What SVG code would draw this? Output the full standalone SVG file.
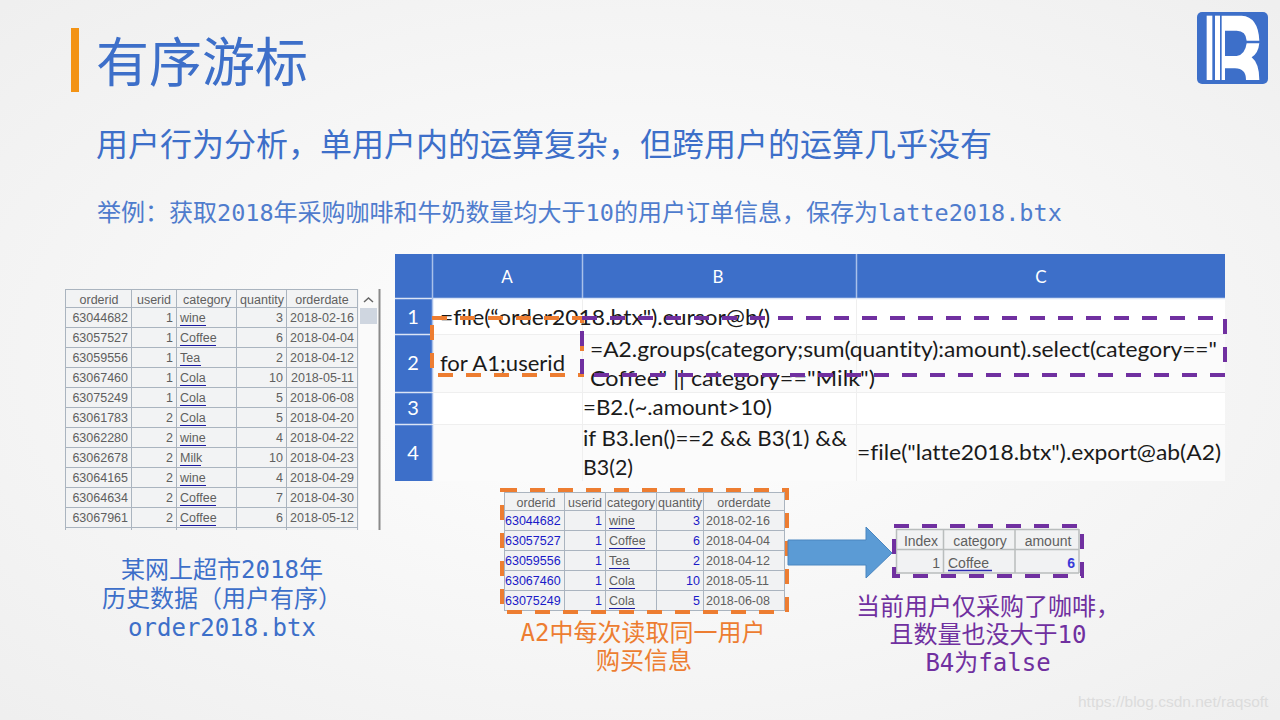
<svg xmlns="http://www.w3.org/2000/svg" width="1280" height="720" viewBox="0 0 1280 720">
<defs>
<radialGradient id="bg" cx="50%" cy="50%" r="70%"><stop offset="0" stop-color="#ffffff"/><stop offset="1" stop-color="#efefef"/></radialGradient>
</defs>
<style>
.cjk{font-family:"Noto Sans CJK SC","Noto Sans",sans-serif}
.mono{font-family:"DejaVu Sans Mono","Noto Sans CJK SC",monospace}
.blue{fill:#3d6fc9}
.cell{font-family:Lato,"Noto Sans",sans-serif;font-size:22px;fill:#1a1a1a;font-variant-ligatures:none}
.hd{font-family:Lato,"Noto Sans",sans-serif;font-size:17px;fill:#fff;text-anchor:middle}
.rn{font-family:Lato,"Noto Sans",sans-serif;font-size:20px;fill:#fff;text-anchor:middle}
.t{font-family:"Liberation Sans",Arial,sans-serif;font-size:12.5px;fill:#5f5f5f}
.c{text-anchor:middle}.r{text-anchor:end}
.n{fill:#1a1ac8}
.ul{stroke:#1a1aa0;stroke-width:1;fill:none}
.g{stroke:#aab4bf;stroke-width:1;fill:none}
.gg{stroke:#b9bdbd;stroke-width:1.5;fill:none}
.og{fill:none;stroke:#ed7d31;stroke-width:4;stroke-dasharray:15 13}
.pu{fill:none;stroke:#7030a0;stroke-width:4;stroke-dasharray:15 13}
</style>
<rect width="1280" height="720" fill="url(#bg)"/>

<g id="title">
<rect x="71" y="28" width="8" height="64" fill="#f39314"/>
<text x="96" y="82" class="cjk blue" font-size="53">有序游标</text>
</g>
<g id="subtitle"><text x="96" y="156" class="cjk blue" font-size="32">用户行为分析，单用户内的运算复杂，但跨用户的运算几乎没有</text></g>
<g id="example"><text x="97" y="221" class="cjk blue" font-size="24" opacity="0.9">举例：获取<tspan class="mono" font-size="23.500">2018</tspan>年采购咖啡和牛奶数量均大于<tspan class="mono" font-size="23.500">10</tspan>的用户订单信息，保存为<tspan class="mono" font-size="23.500">latte2018.btx</tspan></text></g>

<g id="logo">
<rect x="1197" y="12" width="71" height="72" rx="5" fill="#3d6fc9"/>
<g transform="translate(1180 0) scale(0.3333)" fill="#fff">
<rect x="80" y="47" width="17" height="193"/><rect x="105" y="47" width="15" height="193"/>
<path d="M125 47H185Q235 50 238 122H200Q198 92 170 92H135V168H170Q195 165 200 130H238Q235 160 215 172Q238 190 238 240H198Q198 205 165 205H135V240H125Z"/>
</g>
</g>

<g id="source-table">
<rect x="65" y="289" width="315" height="241" fill="#f2f3f4"/>
<path class="g" d="M65 307.500H358M65 327.500H358M65 347.500H358M65 367.500H358M65 387.500H358M65 407.500H358M65 427.500H358M65 447.500H358M65 467.500H358M65 487.500H358M65 507.500H358M65 527.500H358M65 289.500H358M65.500 289V530M131.500 289V530M176.500 289V530M236.500 289V530M286.500 289V530M357.500 289V530"/>
<rect x="359" y="289" width="20" height="241" fill="#fafafa"/>
<rect x="360" y="308" width="17" height="16" fill="#cfd6e0"/>
<path d="M364 302l4.500-4 4.500 4" fill="none" stroke="#666" stroke-width="1.500"/>
<rect x="378.500" y="289" width="2" height="241" fill="#8a8a8a"/>
<path class="ul" d="M180 325.500h26M180 345.500h36M180 365.500h21M180 385.500h26M180 405.500h26M180 425.500h26M180 445.500h26M180 465.500h21M180 485.500h26M180 505.500h36M180 525.500h36"/>
<g class="t">
<text x="99" y="304" class="c">orderid</text><text x="154" y="304" class="c">userid</text><text x="207" y="304" class="c">category</text><text x="262" y="304" class="c">quantity</text><text x="322" y="304" class="c">orderdate</text>
<text x="128" y="322" class="r">63044682</text><text x="173" y="322" class="r">1</text><text x="180" y="322">wine</text><text x="283" y="322" class="r">3</text><text x="354" y="322" class="r">2018-02-16</text>
<text x="128" y="342" class="r">63057527</text><text x="173" y="342" class="r">1</text><text x="180" y="342">Coffee</text><text x="283" y="342" class="r">6</text><text x="354" y="342" class="r">2018-04-04</text>
<text x="128" y="362" class="r">63059556</text><text x="173" y="362" class="r">1</text><text x="180" y="362">Tea</text><text x="283" y="362" class="r">2</text><text x="354" y="362" class="r">2018-04-12</text>
<text x="128" y="382" class="r">63067460</text><text x="173" y="382" class="r">1</text><text x="180" y="382">Cola</text><text x="283" y="382" class="r">10</text><text x="354" y="382" class="r">2018-05-11</text>
<text x="128" y="402" class="r">63075249</text><text x="173" y="402" class="r">1</text><text x="180" y="402">Cola</text><text x="283" y="402" class="r">5</text><text x="354" y="402" class="r">2018-06-08</text>
<text x="128" y="422" class="r">63061783</text><text x="173" y="422" class="r">2</text><text x="180" y="422">Cola</text><text x="283" y="422" class="r">5</text><text x="354" y="422" class="r">2018-04-20</text>
<text x="128" y="442" class="r">63062280</text><text x="173" y="442" class="r">2</text><text x="180" y="442">wine</text><text x="283" y="442" class="r">4</text><text x="354" y="442" class="r">2018-04-22</text>
<text x="128" y="462" class="r">63062678</text><text x="173" y="462" class="r">2</text><text x="180" y="462">Milk</text><text x="283" y="462" class="r">10</text><text x="354" y="462" class="r">2018-04-23</text>
<text x="128" y="482" class="r">63064165</text><text x="173" y="482" class="r">2</text><text x="180" y="482">wine</text><text x="283" y="482" class="r">4</text><text x="354" y="482" class="r">2018-04-29</text>
<text x="128" y="502" class="r">63064634</text><text x="173" y="502" class="r">2</text><text x="180" y="502">Coffee</text><text x="283" y="502" class="r">7</text><text x="354" y="502" class="r">2018-04-30</text>
<text x="128" y="522" class="r">63067961</text><text x="173" y="522" class="r">2</text><text x="180" y="522">Coffee</text><text x="283" y="522" class="r">6</text><text x="354" y="522" class="r">2018-05-12</text>
</g>
</g>
<g id="source-caption" class="blue" font-size="24">
<text x="222" y="578" class="cjk c">某网上超市<tspan class="mono">2018</tspan>年</text>
<text x="222" y="607" class="cjk c">历史数据（用户有序）</text>
<text x="222" y="636" class="mono c">order2018.btx</text>
</g>

<g id="code-table">
<rect x="395" y="254" width="830" height="227" fill="#fbfbfb"/>
<rect x="395" y="299" width="830" height="36" fill="#ffffff"/>
<rect x="395" y="393" width="830" height="31" fill="#ffffff"/>
<rect x="395" y="254" width="830" height="44" fill="#3d6fc9"/>
<rect x="395" y="254" width="37" height="227" fill="#3d6fc9"/>
<path d="M395 298.500H1225M395 334.500H432M395 392.500H432M395 424.500H432" stroke="#dbe4f5" stroke-width="1.500" fill="none"/>
<path d="M432.500 254V481M582.500 254V298M856.500 254V298" stroke="#a9c0ea" stroke-width="1.500" fill="none"/>
<path d="M432 334.500H1225M432 392.500H1225M432 424.500H1225M582.500 298V481M856.500 298V481" stroke="#efefef" stroke-width="1" fill="none"/>
<text x="507" y="283" class="hd">A</text><text x="718" y="283" class="hd">B</text><text x="1041" y="283" class="hd">C</text>
<text x="413" y="324" class="rn">1</text><text x="413" y="370" class="rn">2</text><text x="413" y="415" class="rn">3</text><text x="413" y="460" class="rn">4</text>
<text x="440" y="325" class="cell" textLength="330" lengthAdjust="spacingAndGlyphs">=file(“order2018.btx").cursor@b()</text>
<text x="440" y="371" class="cell" textLength="125" lengthAdjust="spacingAndGlyphs">for A1;userid</text>
<text x="590" y="357" class="cell" textLength="627" lengthAdjust="spacingAndGlyphs">=A2.groups(category;sum(quantity):amount).select(category=="</text>
<text x="590" y="386" class="cell" textLength="285" lengthAdjust="spacingAndGlyphs">Coffee" || category=="Milk")</text>
<text x="583" y="415" class="cell" textLength="189" lengthAdjust="spacingAndGlyphs">=B2.(~.amount>10)</text>
<text x="583" y="446" class="cell" textLength="264" lengthAdjust="spacingAndGlyphs">if B3.len()==2 &amp;&amp; B3(1) &amp;&amp;</text>
<text x="583" y="475" class="cell" textLength="50" lengthAdjust="spacingAndGlyphs">B3(2)</text>
<text x="857" y="460" class="cell" textLength="364" lengthAdjust="spacingAndGlyphs">=file("latte2018.btx").export@ab(A2)</text>
</g>
<g id="highlight-a2"><path class="og" d="M432 318H582V375H432Z"/></g>
<g id="highlight-b2"><path class="pu" d="M582 318H1225V375H582Z"/></g>

<g id="cursor-table">
<rect x="504" y="492" width="280" height="118" fill="#f1f2f3"/>
<path class="g" d="M504 492.500H784M504 510.500H784M504 530.500H784M504 550.500H784M504 570.500H784M504 590.500H784M504 610.500H784M504.500 492V611M564.500 492V611M605.500 492V611M656.500 492V611M703.500 492V611M784.500 492V611"/>
<path class="ul" d="M609 528.500h26M609 548.500h36M609 568.500h21M609 588.500h26M609 608.500h26"/>
<g class="t">
<text x="536" y="507" class="c">orderid</text><text x="585" y="507" class="c">userid</text><text x="631" y="507" class="c">category</text><text x="680" y="507" class="c">quantity</text><text x="744" y="507" class="c">orderdate</text>
<text x="505" y="525" class="n">63044682</text><text x="602" y="525" class="r n">1</text><text x="609" y="525">wine</text><text x="700" y="525" class="r n">3</text><text x="706" y="525">2018-02-16</text>
<text x="505" y="545" class="n">63057527</text><text x="602" y="545" class="r n">1</text><text x="609" y="545">Coffee</text><text x="700" y="545" class="r n">6</text><text x="706" y="545">2018-04-04</text>
<text x="505" y="565" class="n">63059556</text><text x="602" y="565" class="r n">1</text><text x="609" y="565">Tea</text><text x="700" y="565" class="r n">2</text><text x="706" y="565">2018-04-12</text>
<text x="505" y="585" class="n">63067460</text><text x="602" y="585" class="r n">1</text><text x="609" y="585">Cola</text><text x="700" y="585" class="r n">10</text><text x="706" y="585">2018-05-11</text>
<text x="505" y="605" class="n">63075249</text><text x="602" y="605" class="r n">1</text><text x="609" y="605">Cola</text><text x="700" y="605" class="r n">5</text><text x="706" y="605">2018-06-08</text>
</g>
<path class="og" d="M502 490H787V612H502Z"/>
</g>
<g id="cursor-caption" fill="#ed7d31" font-size="24">
<text x="643" y="641" class="cjk c"><tspan class="mono">A2</tspan>中每次读取同一用户</text>
<text x="644" y="669" class="cjk c">购买信息</text>
</g>

<g id="connectors">
<path d="M788 540H866V527L892 553L866 578V565H788Z" fill="#5b9bd5" stroke="#4a86c0" stroke-width="1"/>
</g>

<g id="result-table">
<rect x="896" y="529" width="183" height="44" fill="#f1f2f3"/>
<path class="gg" d="M896 529.500H1079M896 549.500H1079M896 573H1079M896.500 529V573M943.500 529V573M1015 529V573M1079 529V573"/>
<path class="ul" d="M948 570.500h44" style="stroke:#2a2ab0;stroke-width:1.500"/>
<g class="t">
<text x="921" y="546" class="c" style="font-size:14px">Index</text><text x="980" y="546" class="c" style="font-size:14px">category</text><text x="1048" y="546" class="c" style="font-size:14px">amount</text>
<text x="940" y="568" class="r" style="font-size:14px">1</text><text x="948" y="568" style="font-size:14px">Coffee</text><text x="1075" y="568" class="r" style="font-size:14px;font-weight:bold;fill:#3a3ad8">6</text>
</g>
<path class="pu" d="M894 526H1082V576H894Z"/>
</g>
<g id="result-caption" fill="#7030a0" font-size="24">
<text x="856" y="615" class="cjk">当前用户仅采购了咖啡，</text>
<text x="988" y="643" class="cjk c">且数量也没大于<tspan class="mono">10</tspan></text>
<text x="988" y="671" class="cjk c"><tspan class="mono">B4</tspan>为<tspan class="mono">false</tspan></text>
</g>

<g id="watermark"><text x="1078" y="707" font-family="Liberation Sans,Arial,sans-serif" font-size="15.500" fill="#dcdcdc">https://blog.csdn.net/raqsoft</text></g>
</svg>
